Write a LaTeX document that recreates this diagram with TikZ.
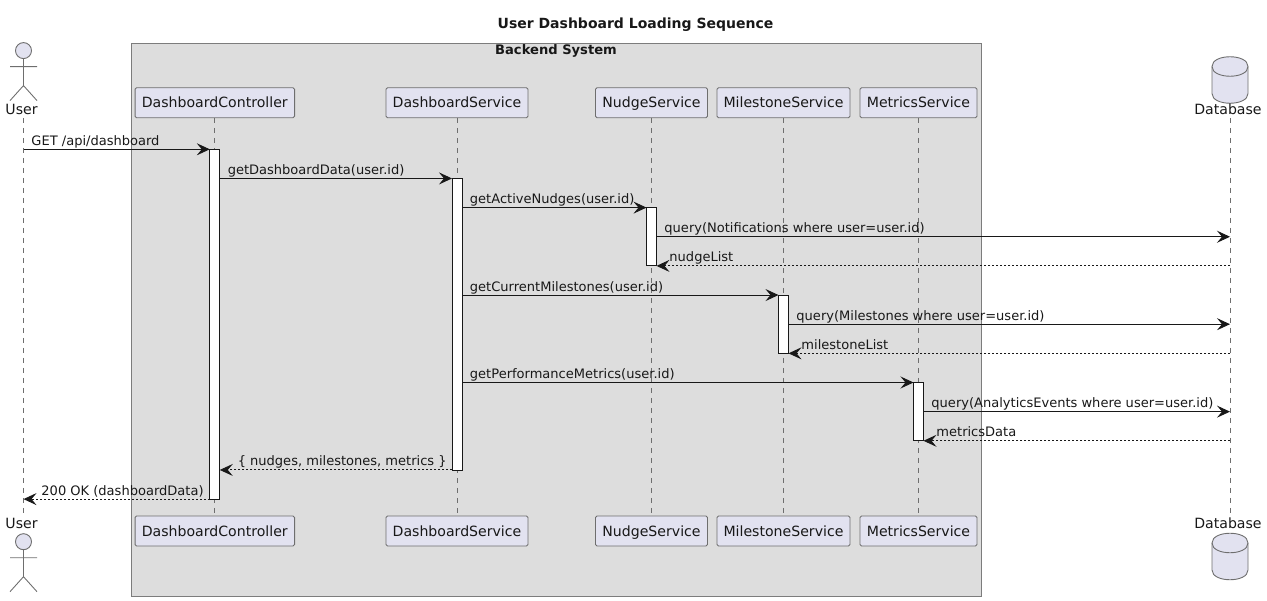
\documentclass[tikz,border=0pt]{standalone}
\usepackage{fontspec}
\setmainfont{DejaVu Sans}
\usetikzlibrary{arrows.meta}

\definecolor{partfill}{HTML}{E2E2F0}
\definecolor{partline}{HTML}{6E6E6E}
\definecolor{msgline}{HTML}{181818}
\definecolor{groupfill}{HTML}{DDDDDD}
\definecolor{groupline}{HTML}{7C7C7C}

\tikzset{
  x=1pt,
  y=-1pt,
  every node/.style={font=\fontsize{14.1}{16}\selectfont, text=msgline, text height=10pt, text depth=3pt},
  participant/.style={
    draw=partline, fill=partfill, rounded corners=1.5pt, line width=0.9pt,
    minimum height=30pt, inner sep=0pt, outer sep=0pt, text depth=0pt,
  },
  lifeline/.style={draw=partline, line width=0.7pt, dash pattern=on 5pt off 5pt},
  actbar/.style={
    draw=msgline, fill=white, line width=0.8pt, minimum width=10pt,
    inner sep=0pt, outer sep=0pt, anchor=north, text height=0pt, text depth=0pt,
  },
  callmsg/.style={
    draw=msgline, line width=0.9pt,
    -{Stealth[length=13pt, width=12pt, inset=5pt]},
  },
  retmsg/.style={callmsg, dash pattern=on 2pt off 2pt},
  msglabel/.style={
    font=\fontsize{13.03}{16}\selectfont,
    anchor=south west, inner sep=0pt, yshift=0.5pt, xshift=#1,
  },
  msglabel/.default=7.5pt,
  actorname/.style={inner sep=0pt},
  actorfig/.pic={
    \draw[draw=partline, line width=0.9pt, fill=partfill] (0, 8) circle (8);
    \draw[draw=partline, line width=0.9pt]
      (0, 16) -- (0, 43)
      (-13.5, 24) -- (13.5, 24)
      (-13.5, 58) -- (0, 43) -- (13.5, 58)
    ;
  },
  dbfig/.pic={
    \draw[draw=partline, line width=0.9pt, fill=partfill]
      (-18, 10)
      .. controls (-18, -3) and (18, -3) .. (18, 10)
      -- (18, 37)
      .. controls (18, 50) and (-18, 50) .. (-18, 37)
      -- cycle
    ;
    \draw[draw=partline, line width=0.9pt]
      (-18, 10) .. controls (-18, 23) and (18, 23) .. (18, 10)
    ;
  },
}

\begin{document}
\begin{tikzpicture}
  \useasboundingbox (0, 0) rectangle (1267, 601);

  \node[font=\fontsize{14}{16}\selectfont\bfseries] (title) at (635.5, 25) {User Dashboard Loading Sequence};

  % backend group
  \node[
    draw=groupline, fill=groupfill, line width=0.8pt, inner sep=0pt, outer sep=0pt,
    minimum width=850pt, minimum height=553pt, anchor=north west,
  ] (backend) at (131.5, 43.5) {};
  \node[font=\fontsize{13.1}{16}\selectfont\bfseries, inner sep=0pt] (backendTitle) at (556, 51.5) {Backend System};

  % participants, top row
  \node[participant, minimum width=159.5pt] (ctrlTop) at (214.8, 102.8) {DashboardController};
  \node[participant, minimum width=142pt] (dashTop) at (457, 102.8) {DashboardService};
  \node[participant, minimum width=112pt] (nudgeTop) at (651.5, 102.8) {NudgeService};
  \node[participant, minimum width=133pt] (mileTop) at (783.5, 102.8) {MilestoneService};
  \node[participant, minimum width=117pt] (metricTop) at (918.5, 102.8) {MetricsService};

  % participants, bottom row
  \node[participant, minimum width=159.5pt] (ctrlBot) at (214.8, 531) {DashboardController};
  \node[participant, minimum width=142pt] (dashBot) at (457, 531) {DashboardService};
  \node[participant, minimum width=112pt] (nudgeBot) at (651.5, 531) {NudgeService};
  \node[participant, minimum width=133pt] (mileBot) at (783.5, 531) {MilestoneService};
  \node[participant, minimum width=117pt] (metricBot) at (918.5, 531) {MetricsService};

  % actor and database
  \pic at (23.5, 42.6) {actorfig};
  \pic at (23.5, 533.7) {actorfig};
  \pic at (1230, 56.5) {dbfig};
  \pic at (1230, 533) {dbfig};
  \node[actorname] (userTop) at (21.5, 111) {User};
  \node[actorname] (userBot) at (21.5, 524.8) {User};
  \node[actorname] (dbTop) at (1228, 111) {Database};
  \node[actorname] (dbBot) at (1228, 524.8) {Database};
  \coordinate (user) at (23.5, 118);
  \coordinate (userEnd) at (23.5, 516);
  \coordinate (db) at (1230, 118);
  \coordinate (dbEnd) at (1230, 516);

  % message rows
  \foreach \i in {1,...,13} {
    \pgfmathsetmacro\rowy{149.3+(\i-1)*29.15}
    \coordinate (m\i) at (0, \rowy);
  }

  \draw[lifeline] (user) -- (userEnd);
  \draw[lifeline] (ctrlTop) -- (ctrlBot);
  \draw[lifeline] (dashTop) -- (dashBot);
  \draw[lifeline] (nudgeTop) -- (nudgeBot);
  \draw[lifeline] (mileTop) -- (mileBot);
  \draw[lifeline] (metricTop) -- (metricBot);
  \draw[lifeline] (db) -- (dbEnd);

  % activation bars
  \node[actbar, minimum height=349.8pt] (ctrlBar) at (ctrlTop |- m1) {};
  \node[actbar, minimum height=291.5pt] (dashBar) at (dashTop |- m2) {};
  \node[actbar, minimum height=58.3pt] (nudgeBar) at (nudgeTop |- m3) {};
  \node[actbar, minimum height=58.3pt] (mileBar) at (mileTop |- m6) {};
  \node[actbar, minimum height=58.3pt] (metricBar) at (metricTop |- m9) {};

  % messages
  \draw[callmsg] (user |- m1) -- node[msglabel, pos=0] (lblGet) {GET /api/dashboard} (ctrlBar.west |- m1);
  \draw[callmsg] (ctrlBar.east |- m2) -- node[msglabel, pos=0] (lblData) {getDashboardData(user.id)} (dashBar.west |- m2);
  \draw[callmsg] (dashBar.east |- m3) -- node[msglabel, pos=0] (lblNudges) {getActiveNudges(user.id)} (nudgeBar.west |- m3);
  \draw[callmsg] (nudgeBar.east |- m4) -- node[msglabel, pos=0] (lblQueryN) {query(Notifications where user=user.id)} (db |- m4);
  \draw[retmsg] (db |- m5) -- node[msglabel=12.5pt, pos=1] (lblNudgeList) {nudgeList} (nudgeBar.east |- m5);
  \draw[callmsg] (dashBar.east |- m6) -- node[msglabel, pos=0] (lblMiles) {getCurrentMilestones(user.id)} (mileBar.west |- m6);
  \draw[callmsg] (mileBar.east |- m7) -- node[msglabel, pos=0] (lblQueryM) {query(Milestones where user=user.id)} (db |- m7);
  \draw[retmsg] (db |- m8) -- node[msglabel=12.5pt, pos=1] (lblMileList) {milestoneList} (mileBar.east |- m8);
  \draw[callmsg] (dashBar.east |- m9) -- node[msglabel, pos=0] (lblPerf) {getPerformanceMetrics(user.id)} (metricBar.west |- m9);
  \draw[callmsg] (metricBar.east |- m10) -- node[msglabel, pos=0] (lblQueryA) {query(AnalyticsEvents where user=user.id)} (db |- m10);
  \draw[retmsg] (db |- m11) -- node[msglabel=12.5pt, pos=1] (lblMetrics) {metricsData} (metricBar.east |- m11);
  \draw[retmsg] (dashBar.west |- m12) -- node[msglabel=17.5pt, pos=1] (lblBundle) {\{ nudges, milestones, metrics \}} (ctrlBar.east |- m12);
  \draw[retmsg] (ctrlBar.west |- m13) -- node[msglabel=17.5pt, pos=1] (lblOk) {200 OK (dashboardData)} (user |- m13);

\end{tikzpicture}
\end{document}
